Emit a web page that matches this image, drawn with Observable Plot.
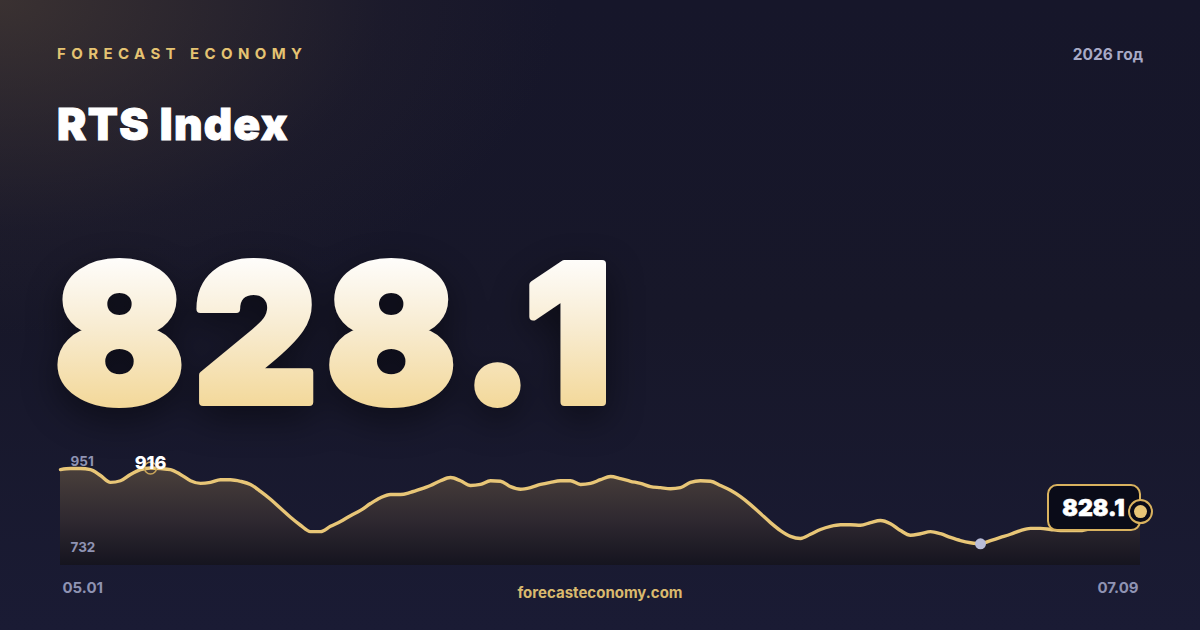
<!DOCTYPE html>
<html>
<head>
<meta charset="utf-8">
<script src="https://cdn.jsdelivr.net/npm/d3@7"></script>
<script src="https://cdn.jsdelivr.net/npm/@observablehq/plot@0.6"></script>
<style>
  html, body { margin: 0; padding: 0; }
  body {
    width: 1200px; height: 630px; overflow: hidden; position: relative;
    font-family: Inter, "Noto Sans", sans-serif;
    background:
      radial-gradient(ellipse 700px 420px at 0% 0%, rgba(88,72,56,0.55), rgba(60,50,50,0.15) 55%, rgba(0,0,0,0) 80%),
      linear-gradient(180deg, #16162a 0%, #171729 50%, #1a1b34 100%);
  }
  .abs { position: absolute; line-height: 1; white-space: nowrap; }
  #brand { left: 57px; top: 46px; font-size: 15px; font-weight: 700; letter-spacing: 5.4px; color: #e5c372; }
  #year { right: 57px; top: 47px; font-size: 15.5px; font-weight: 700; color: #a8aac6; }
  #title { left: 57px; top: 102px; font-size: 44px; font-weight: 900; color: #ffffff; letter-spacing: 1.3px;
    -webkit-text-stroke: 1px #ffffff; }
  #bigsvg { position: absolute; left: 0; top: 200px; overflow: visible;
    filter: drop-shadow(0 12px 18px rgba(0,0,0,0.45)); }
  #site { left: 0; width: 1200px; text-align: center; top: 585px; font-size: 15px; font-weight: 700; color: #d9b96e; }
  #chart { position: absolute; left: 0; top: 440px; }
</style>
</head>
<body>
<div class="abs" id="brand">FORECAST ECONOMY</div>
<div class="abs" id="year">2026 год</div>
<div class="abs" id="title">RTS Index</div>
<svg id="bigsvg" width="720" height="240">
  <defs>
    <linearGradient id="bigGrad" gradientUnits="userSpaceOnUse" x1="0" y1="58" x2="0" y2="208">
      <stop offset="0%" stop-color="#fefdfb"/>
      <stop offset="45%" stop-color="#f8ecd2"/>
      <stop offset="100%" stop-color="#f3d899"/>
    </linearGradient>
  </defs>
  <text id="bigText" x="55" y="202" font-family="Inter, sans-serif" font-size="190" font-weight="900"
    letter-spacing="10" fill="url(#bigGrad)" stroke="url(#bigGrad)" stroke-width="8" stroke-linejoin="round">828.1</text>
</svg>
<div class="abs" id="site">forecasteconomy.com</div>
<div id="chart"></div>
<script>
// RTS Index values (05.01 → 07.09)
const values = [
  913, 915, 915, 913, 902, 889, 892, 904, 913, 916,
  915, 913, 904, 892, 887, 889, 894, 894, 891, 885,
  872, 857, 840, 823, 808, 796, 796, 806, 815, 826,
  836, 849, 860, 866, 866, 870, 876, 883, 892, 898,
  892, 883, 885, 892, 891, 881, 876, 879, 885, 889,
  892, 892, 885, 887, 894, 900, 896, 891, 887, 881,
  879, 877, 879, 889, 892, 891, 883, 874, 862, 847,
  830, 813, 798, 787, 783, 791, 800, 806, 809, 809,
  808, 813, 817, 811, 798, 789, 792, 796, 792, 785,
  779, 775, 773, 779, 785, 791, 798, 802, 802, 800,
  798, 798, 798, 802, 809, 817, 824, 828, 828.1
];
const tickLabels = ["05.01", "07.09"];
const yDomain = [732, 951];
const lastLabel = "828.1";

const data = values.map((v, i) => ({i, v}));
const n = data.length - 1;
const maxD = data.reduce((a, b) => (b.v > a.v ? b : a));
const minD = data.reduce((a, b) => (b.v < a.v ? b : a));
const lastD = data[n];
const gold = "#e8c677";

function gradientDefs() {
  const ns = "http://www.w3.org/2000/svg";
  const defs = document.createElementNS(ns, "defs");
  const lg = document.createElementNS(ns, "linearGradient");
  lg.setAttribute("id", "areaGrad");
  lg.setAttribute("x1", "0"); lg.setAttribute("y1", "0");
  lg.setAttribute("x2", "0"); lg.setAttribute("y2", "1");
  [["0%", "#4a403b"], ["55%", "#2e2830"], ["100%", "#15141f"]].forEach(([o, c]) => {
    const s = document.createElementNS(ns, "stop");
    s.setAttribute("offset", o); s.setAttribute("stop-color", c);
    lg.appendChild(s);
  });
  defs.appendChild(lg);
  return defs;
}

const plot = Plot.plot({
  width: 1200,
  height: 170,
  marginLeft: 60,
  marginRight: 60,
  marginTop: 9,
  marginBottom: 45,
  x: {domain: [0, n], axis: null},
  y: {domain: yDomain, axis: null},
  style: {background: "transparent", overflow: "visible", fontFamily: "Inter, sans-serif"},
  marks: [
    gradientDefs,
    Plot.areaY(data, {x: "i", y1: yDomain[0], y2: "v", fill: "url(#areaGrad)", curve: "monotone-x"}),
    Plot.lineY(data, {x: "i", y: "v", stroke: gold, strokeWidth: 3.4, curve: "monotone-x"}),
    // y domain labels
    Plot.text([yDomain[1]], {x: 0, y: d => d, text: d => String(d), textAnchor: "start", dx: 10, dy: 12,
      fill: "#8f93b3", fontSize: 13.5, fontWeight: 700}),
    Plot.text([yDomain[0]], {x: 0, y: d => d, text: d => String(d), textAnchor: "start", dx: 10, dy: -18,
      fill: "#8f93b3", fontSize: 13.5, fontWeight: 700}),
    // max marker
    Plot.dot([maxD], {x: "i", y: "v", r: 6, stroke: "#c9a55a", strokeWidth: 1.5, fill: "none"}),
    Plot.text([maxD], {x: "i", y: "v", text: d => String(d.v), dy: -5, fill: "#ffffff", fontSize: 18, fontWeight: 800}),
    // min marker
    Plot.dot([minD], {x: "i", y: "v", r: 5.5, fill: "#b9bdd8"}),
    // last value box
    Plot.rect([lastD], {x1: "i", x2: "i", y1: "v", y2: "v", insetLeft: -92, insetRight: 0, insetTop: -29, insetBottom: -16,
      rx: 9, fill: "#0a0b18", stroke: "#d9b25f", strokeWidth: 2}),
    Plot.text([lastD], {x: "i", y: "v", text: () => lastLabel, dx: -47, dy: -6, fill: "#ffffff", fontSize: 23,
      fontWeight: 900, stroke: "#ffffff", strokeWidth: 0.6}),
    Plot.dot([lastD], {x: "i", y: "v", r: 11.5, stroke: "#d9b25f", strokeWidth: 2, fill: "#0a0b18", dy: -3}),
    Plot.dot([lastD], {x: "i", y: "v", r: 6.5, fill: gold, dy: -3}),
    // x tick labels
    Plot.text([tickLabels[0]], {x: 0, frameAnchor: "bottom", text: d => d, textAnchor: "start", dx: 2, dy: 27,
      fill: "#8f93b3", fontSize: 15, fontWeight: 700}),
    Plot.text([tickLabels[1]], {x: n, frameAnchor: "bottom", text: d => d, textAnchor: "end", dx: -2, dy: 27,
      fill: "#8f93b3", fontSize: 15, fontWeight: 700})
  ]
});
document.getElementById("chart").appendChild(plot);
</script>
</body>
</html>
